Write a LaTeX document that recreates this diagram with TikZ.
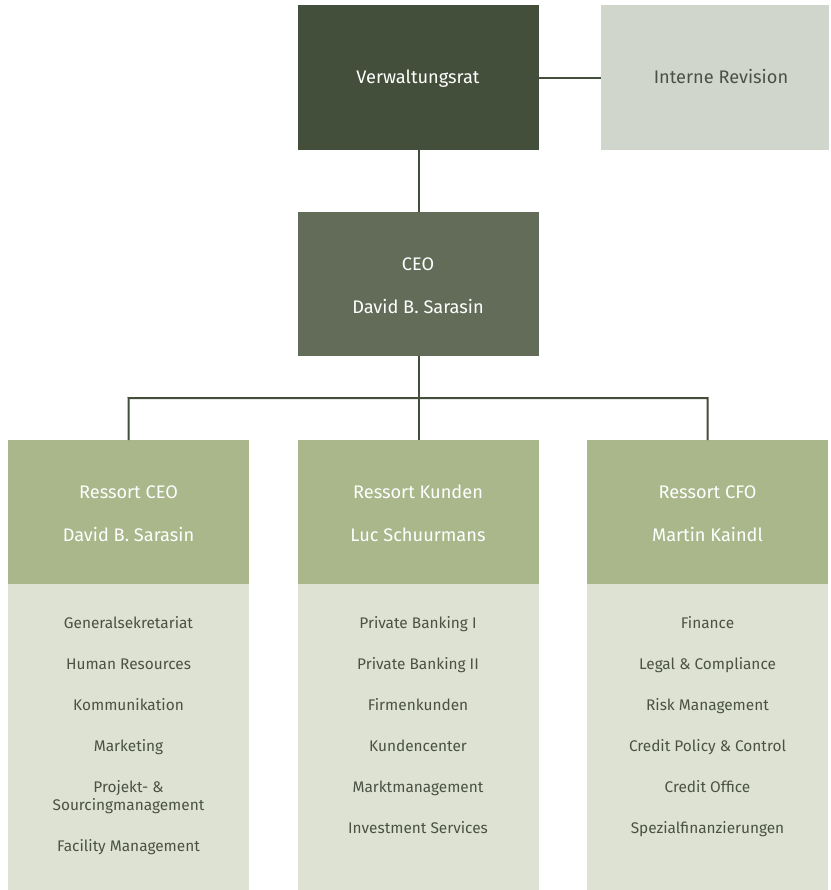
\documentclass[tikz,border=0pt]{standalone}
\usepackage{fontspec}
\setmainfont{Fira Sans}
\definecolor{cdark}{HTML}{434F3B}
\definecolor{cceo}{HTML}{636C59}
\definecolor{crev}{HTML}{D0D6CB}
\definecolor{chead}{HTML}{A9B78B}
\definecolor{clight}{HTML}{DEE2D2}
\definecolor{ctext}{HTML}{4B5244}
\tikzset{
  box/.style={rectangle, inner sep=0, anchor=north west, draw=none, minimum width=241pt},
  conn/.style={draw=cdark, line width=2pt},
  wtxt/.style={text=white, font=\fontsize{18.2}{21}\selectfont, anchor=base, inner sep=0},
  dtxt/.style={text=ctext, font=\fontsize{18.2}{21}\selectfont, anchor=base, inner sep=0},
  ltxt/.style={text=ctext, font=\fontsize{15.4}{18}\selectfont, anchor=base, inner sep=0, align=center},
}
\begin{document}
\begin{tikzpicture}[x=1pt,y=-1pt]
\useasboundingbox (0,0) rectangle (830,890);
% boxes
\node[box, fill=cdark, minimum height=145pt] (vr) at (298,5) {};
\node[box, fill=crev, minimum width=228pt, minimum height=145pt] (ir) at (601,5) {};
\node[box, fill=cceo, minimum height=144pt] (ceo) at (298,212) {};
\node[box, fill=chead, minimum height=144pt] (h1) at (8,440) {};
\node[box, fill=chead, minimum height=144pt] (h2) at (298,440) {};
\node[box, fill=chead, minimum height=144pt] (h3) at (587,440) {};
\node[box, fill=clight, minimum height=306pt] (l1) at (8,584) {};
\node[box, fill=clight, minimum height=306pt] (l2) at (298,584) {};
\node[box, fill=clight, minimum height=306pt] (l3) at (587,584) {};
% connectors
\draw[conn] (vr.east) -- (ir.west);
\draw[conn] (vr.south) -- (ceo.north);
\coordinate (jl) at (128.5,398);
\coordinate (jr) at (707.5,398);
\draw[conn] (ceo.south) -- (h2.north);
\draw[conn] (h1.north) -- (jl) -- (jr) -- (h3.north);
% texts
\node[wtxt] (tvr) at (418,84) {Verwaltungsrat};
\node[dtxt] (tir) at (721,84) {Interne Revision};
\node[wtxt] (tceo1) at (418,270) {CEO};
\node[wtxt] (tceo2) at (418,313) {David B. Sarasin};
\node[wtxt] (th1a) at (128.5,498) {Ressort CEO};
\node[wtxt] (th1b) at (128.5,541) {David B. Sarasin};
\node[wtxt] (th2a) at (418,498) {Ressort Kunden};
\node[wtxt] (th2b) at (418,541) {Luc Schuurmans};
\node[wtxt] (th3a) at (707.5,498) {Ressort CFO};
\node[wtxt] (th3b) at (707.5,541) {Martin Kaindl};
% column 1
\node[ltxt] (a1) at (128.5,628) {Generalsekretariat};
\node[ltxt] (a2) at (128.5,669) {Human Resources};
\node[ltxt] (a3) at (128.5,710) {Kommunikation};
\node[ltxt] (a4) at (128.5,751) {Marketing};
\node[ltxt] (a5) at (128.5,792) {Projekt- \&};
\node[ltxt] (a5b) at (128.5,810) {Sourcingmanagement};
\node[ltxt] (a6) at (128.5,851) {Facility Management};
% column 2
\node[ltxt] (b1) at (418,628) {Private Banking I};
\node[ltxt] (b2) at (418,669) {Private Banking II};
\node[ltxt] (b3) at (418,710) {Firmenkunden};
\node[ltxt] (b4) at (418,751) {Kundencenter};
\node[ltxt] (b5) at (418,792) {Marktmanagement};
\node[ltxt] (b6) at (418,833) {Investment Services};
% column 3
\node[ltxt] (c1) at (707.5,628) {Finance};
\node[ltxt] (c2) at (707.5,669) {Legal \& Compliance};
\node[ltxt] (c3) at (707.5,710) {Risk Management};
\node[ltxt] (c4) at (707.5,751) {Credit Policy \& Control};
\node[ltxt] (c5) at (707.5,792) {Credit Office};
\node[ltxt] (c6) at (707.5,833) {Spezialfinanzierungen};
\end{tikzpicture}
\end{document}
